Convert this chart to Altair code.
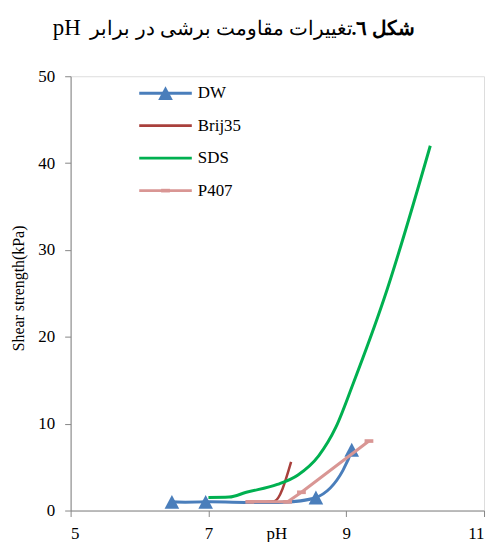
import altair as alt
import pandas as pd

# ---- data ----
series_names = ["DW", "Brij35", "SDS", "P407"]
series_colors = ["#4A7EBB", "#A9403C", "#00B050", "#D99694"]

dw_ph = [6.47, 6.96, 8.56, 9.08]
dw_ss = [1.0, 1.0, 1.5, 7.0]

brij_ph = [7.6, 7.95, 8.2]
brij_ss = [1.0, 1.05, 5.6]

sds_ph = [7.0, 7.3, 7.55, 8.0, 8.3, 8.6, 8.85, 9.1, 9.55, 10.22]
sds_ss = [1.5, 1.55, 2.1, 3.0, 4.1, 6.3, 9.6, 14.6, 24.4, 42.0]

p407_ph = [7.6, 8.15, 8.35, 9.33]
p407_ss = [1.0, 1.0, 2.1, 8.0]

x_ticks = [5, 7, 9, 11]
y_ticks = [0, 10, 20, 30, 40, 50]

# logical order chosen so that the period sits left of the digit in LTR context
title_bold = ".شکل ٦"
title_rest = "تغییرات مقاومت برشی در برابر"
title_ph = "pH"
x_title = "pH"
y_title = "Shear strength(kPa)"

FONT = "Liberation Serif"


def frame(name, xs, ys):
    return pd.DataFrame({"pH": xs, "ss": ys, "series": name,
                         "ord": list(range(len(xs)))})


dw = frame("DW", dw_ph, dw_ss)
brij = frame("Brij35", brij_ph, brij_ss)
sds = frame("SDS", sds_ph, sds_ss)
p407 = frame("P407", p407_ph, p407_ss)

x_enc = alt.X("pH:Q", scale=alt.Scale(domain=[5, 11], nice=False, zero=False),
              axis=alt.Axis(values=x_ticks, title=x_title, titleX=207, titleY=28,
                            titleBaseline="alphabetic", titleAlign="center",
                            titleFontWeight="normal", titleFont=FONT, titleFontSize=17,
                            titleColor="black",
                            labelFont=FONT, labelFontSize=17, labelColor="black",
                            labelPadding=9, tickSize=6, grid=False,
                            domainColor="#868686", tickColor="#868686"))
y_enc = alt.Y("ss:Q", scale=alt.Scale(domain=[0, 50], nice=False),
              axis=alt.Axis(values=y_ticks, title=y_title, titleX=-52, titleY=213,
                            titleBaseline="middle", titleAlign="center", titleAngle=270,
                            titleFontWeight="normal", titleFont=FONT, titleFontSize=16,
                            titleColor="black",
                            labelFont=FONT, labelFontSize=17, labelColor="black",
                            labelPadding=10, tickSize=6, grid=False,
                            domainColor="#868686", tickColor="#868686"))

LEG_X = 86.5
LEG_Y = 8
ROW_PAD = 15.7
SYM_SIZE = 216

color_scale = alt.Scale(domain=series_names, range=series_colors)
color_enc = alt.Color("series:N", scale=color_scale, sort=series_names,
                      legend=alt.Legend(orient="none", legendX=LEG_X, legendY=LEG_Y,
                                        title=None, direction="vertical",
                                        symbolType="M-3.6,0H3.6", symbolSize=SYM_SIZE,
                                        symbolStrokeWidth=3,
                                        labelFont=FONT, labelFontSize=17,
                                        labelColor="black", rowPadding=ROW_PAD,
                                        labelOffset=23.5))


def line(df, interp, sw=3):
    return alt.Chart(df).mark_line(interpolate=interp, strokeWidth=sw).encode(
        x=x_enc, y=y_enc, color=color_enc, order="ord:Q")


EMPTY = "M0,0"
TRI = "M0,-0.95L1,0.95L-1,0.95Z"
DASH = "M-0.6,-0.25H0.6V0.25H-0.6Z"


def markers(df, color, domain, rng):
    return alt.Chart(df).mark_point(filled=True, opacity=1, size=SYM_SIZE,
                                    color=color).encode(
        x=x_enc, y=y_enc,
        shape=alt.Shape("series:N", scale=alt.Scale(domain=domain, range=rng),
                        legend=alt.Legend(orient="none", legendX=LEG_X, legendY=LEG_Y,
                                          title=None, direction="vertical",
                                          symbolSize=SYM_SIZE,
                                          symbolFillColor=color,
                                          symbolStrokeColor="transparent",
                                          symbolStrokeWidth=3, symbolOpacity=1,
                                          labelFont=FONT, labelFontSize=17,
                                          labelColor="transparent", rowPadding=ROW_PAD)),
    )


dw_pts = markers(dw, series_colors[0], ["DW", "_b", "_c", "_d"],
                 [TRI, EMPTY, EMPTY, EMPTY])
p_pts = markers(p407, series_colors[3], ["_a", "_b2", "_c2", "P407"],
                [EMPTY, EMPTY, EMPTY, DASH])

t_bold = alt.Chart(pd.DataFrame({"t": [title_bold]})).mark_text(
    align="right", baseline="alphabetic", font=FONT, fontSize=20, fontWeight="bold",
    color="black").encode(x=alt.value(347), y=alt.value(-42), text="t:N")
t_rest = alt.Chart(pd.DataFrame({"t": [title_rest]})).mark_text(
    align="right", baseline="alphabetic", font=FONT, fontSize=20.5,
    color="black").encode(x=alt.value(284), y=alt.value(-42), text="t:N")
t_ph = alt.Chart(pd.DataFrame({"t": [title_ph]})).mark_text(
    align="left", baseline="alphabetic", font=FONT, fontSize=23,
    color="black").encode(x=alt.value(-18), y=alt.value(-41), text="t:N")

chart = alt.layer(
    line(dw, "cardinal"),
    dw_pts,
    line(brij, "monotone", 2.5),
    line(sds, "monotone"),
    line(p407, "linear"),
    p_pts,
    t_bold, t_rest, t_ph,
).resolve_scale(shape="independent").properties(
    width=416, height=437,
    autosize=alt.AutoSizeParams(type="none"),
    padding={"left": 63, "top": 67, "right": 5, "bottom": 30},
).configure_view(stroke=None).configure_legend(
    labelFont=FONT, labelFontSize=17
).configure(background="white")

chart.save("out.html", embed_options={"renderer": "svg", "actions": False})
